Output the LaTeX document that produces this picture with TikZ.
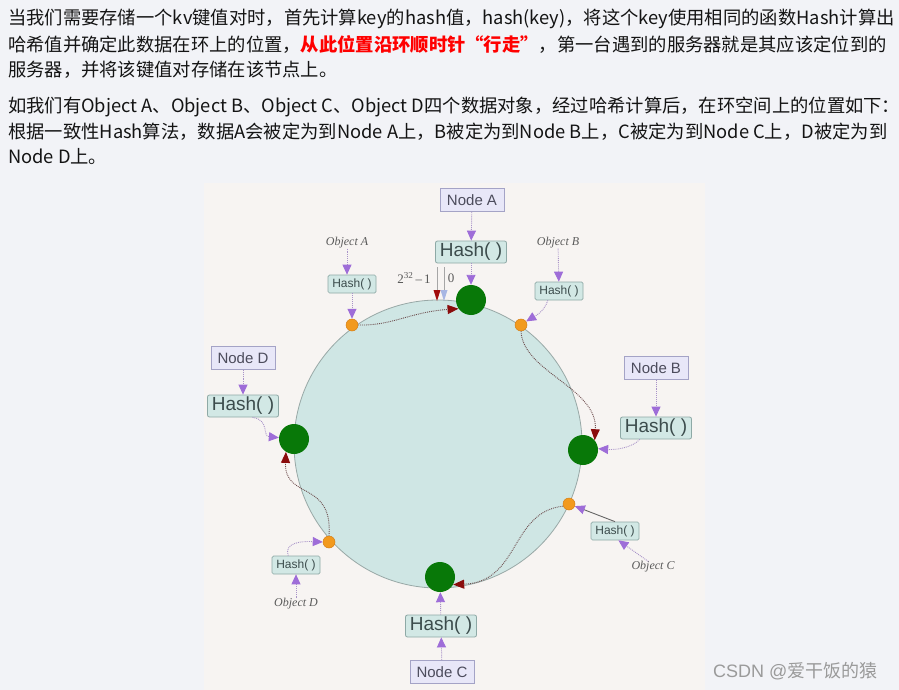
\documentclass[tikz,border=0pt]{standalone}
\usepackage{fontspec}
\setmainfont{Liberation Serif}
\newfontfamily\cjk{Noto Sans CJK SC}
\newfontfamily\hashfont{Liberation Sans}
\usetikzlibrary{arrows.meta}
\definecolor{pagebg}{HTML}{F2F3F7}
\definecolor{diagbg}{HTML}{F7F4F2}
\definecolor{txtcol}{HTML}{141414}
\definecolor{ringfill}{HTML}{CFE6E4}
\definecolor{ringdraw}{HTML}{98A8A6}
\definecolor{hashfill}{HTML}{D2E8E5}
\definecolor{hashdraw}{HTML}{8EA9A6}
\definecolor{hashtext}{HTML}{3C4C4C}
\definecolor{nodefill}{HTML}{E8E7F8}
\definecolor{nodedraw}{HTML}{A4A3C6}
\definecolor{nodetext}{HTML}{4C4C5C}
\definecolor{gfill}{HTML}{087808}
\definecolor{ofill}{HTML}{F29A1E}
\definecolor{odraw}{HTML}{D57F16}
\definecolor{purp}{HTML}{9E6DD8}
\definecolor{purpline}{HTML}{A893C8}
\definecolor{darkred}{HTML}{8A0C0C}
\definecolor{redline}{HTML}{6E4E4E}
\definecolor{objtext}{HTML}{5A5A5A}
\definecolor{wm}{HTML}{9A9A9A}
\begin{document}
\begin{tikzpicture}[x=1pt,y=-1pt,
  txt/.style={anchor=base west,inner sep=0pt,text=txtcol,font=\cjk\fontsize{18.3}{22}\selectfont},
  bighash/.style={draw=hashdraw,fill=hashfill,rounded corners=2pt,line width=0.8pt,minimum width=71pt,minimum height=22pt,inner sep=0pt,text=hashtext,font=\hashfont\fontsize{19}{21}\selectfont},
  smallhash/.style={draw=hashdraw,fill=hashfill,rounded corners=1.5pt,line width=0.7pt,minimum width=48pt,minimum height=18pt,inner sep=0pt,text=hashtext,font=\hashfont\fontsize{12}{14}\selectfont},
  nodebox/.style={draw=nodedraw,fill=nodefill,line width=0.8pt,minimum width=64pt,minimum height=23pt,inner sep=0pt,text=nodetext,font=\hashfont\fontsize{15}{17}\selectfont},
  objlabel/.style={inner sep=0pt,text=objtext,font=\fontsize{12}{14}\selectfont\itshape},
  gnode/.style={circle,fill=gfill,minimum size=30pt,inner sep=0pt},
  onode/.style={circle,fill=ofill,draw=odraw,line width=0.5pt,minimum size=12pt,inner sep=0pt},
  parrow/.style={draw=purpline,densely dotted,line width=0.9pt,-{Triangle[length=10pt,width=9pt,fill=purp,color=purp]}},
  psolid/.style={draw=gray!80!black,line width=0.9pt,-{Triangle[length=10pt,width=9pt,fill=purp,color=purp]}},
  rarrow/.style={draw=redline,densely dotted,line width=0.9pt,-{Triangle[length=11pt,width=9pt,fill=darkred,color=darkred]}},
  tickline/.style={draw=gray!70,line width=0.6pt}
]
\fill[pagebg] (0,0) rectangle (899,690);
\useasboundingbox (0,0) rectangle (899,690);
% text
\node[txt] (l1) at (8,25) {当我们需要存储一个kv键值对时，首先计算key的hash值，hash(key)，将这个key使用相同的函数Hash计算出};
\node[txt] (l2) at (8,52) {哈希值并确定此数据在环上的位置，{\color{red}\bfseries 从此位置沿环顺时针“行走”}，第一台遇到的服务器就是其应该定位到的};
\node[txt] (l3) at (8,77) {服务器，并将该键值对存储在该节点上。};
\node[txt] (l4) at (8,113) {如我们有Object A、Object B、Object C、Object D四个数据对象，经过哈希计算后，在环空间上的位置如下：};
\node[txt] (l5) at (8,139) {根据一致性Hash算法，数据A会被定为到Node A上，B被定为到Node B上，C被定为到Node C上，D被定为到};
\node[txt] (l6) at (8,164) {Node D上。};
% diagram background
\fill[diagbg] (204,183) rectangle (705,690);
% ring
\node[circle,minimum size=288pt,fill=ringfill,draw=ringdraw,line width=0.8pt,inner sep=0pt] (ring) at (438,444) {};
% marks 2^32-1 and 0
\node[inner sep=0pt,text=objtext,font=\fontsize{13}{15}\selectfont] (tmax) at (414,278) {2\textsuperscript{32}\,–\,1};
\node[inner sep=0pt,text=objtext,font=\fontsize{13}{15}\selectfont] (tzero) at (451,278) {0};
\coordinate (mr1) at (437,267);
\coordinate (mr2) at (437,290);
\coordinate (mb1) at (444,267);
\coordinate (mb2) at (444,290);
\draw[tickline] (mr1) -- (mr2);
\draw[tickline] (mb1) -- (mb2);
\fill[darkred!80!red] (433.5,290) -- (440.5,290) -- (437,301) -- cycle;
\fill[cyan!40!blue!35] (440.5,290) -- (447.5,290) -- (444,301) -- cycle;
% server nodes on ring
\node[gnode] (gA) at (471,300) {};
\node[gnode] (gB) at (583,450) {};
\node[gnode] (gC) at (440,577) {};
\node[gnode] (gD) at (294,439) {};
% object points
\node[onode] (oA) at (352,325) {};
\node[onode] (oB) at (521,325) {};
\node[onode] (oC) at (569,504) {};
\node[onode] (oD) at (329,542) {};
% node boxes
\node[nodebox] (nA) at (472,200) {Node A};
\node[nodebox] (nB) at (656,368) {Node B};
\node[nodebox] (nC) at (442,672) {Node C};
\node[nodebox] (nD) at (243,358) {Node D};
% big hash boxes
\node[bighash] (hA) at (471,252) {Hash( )};
\node[bighash] (hB) at (656,428) {Hash( )};
\node[bighash] (hC) at (441,626) {Hash( )};
\node[bighash] (hD) at (243,406) {Hash( )};
% small hash boxes
\node[smallhash] (sA) at (352,284) {Hash( )};
\node[smallhash] (sB) at (559,291) {Hash( )};
\node[smallhash] (sC) at (615,531) {Hash( )};
\node[smallhash] (sD) at (296,565) {Hash( )};
% object labels
\node[objlabel] (objA) at (347,243) {Object A};
\node[objlabel] (objB) at (558,243) {Object B};
\node[objlabel] (objC) at (653,567) {Object C};
\node[objlabel] (objD) at (296,604) {Object D};
% node -> hash -> server
\draw[parrow] (nA) -- (hA);
\draw[parrow] (hA) -- (gA);
\draw[parrow] (nB) -- (hB);
\draw[parrow] (hB.-145) .. controls (632,448) and (615,450) .. (gB.5);
\draw[parrow] (nC) -- (hC);
\draw[parrow] (hC) -- (gC);
\draw[parrow] (nD) -- (hD);
\draw[parrow] (hD.-50) .. controls (270,420) and (262,436) .. (gD.175);
% object -> hash -> point
\draw[parrow] (objA) -- (sA.north -| objA);
\draw[parrow] (sA) -- (oA);
\draw[parrow] (objB) -- (sB);
\draw[parrow] (sB.-140) .. controls (544,312) and (535,316) .. (oB.35);
\draw[parrow] (objC.130) -- (sC.-70);
\draw[psolid] (sC.north) -- (oC.-20);
\draw[parrow] (objD) -- (sD);
\draw[parrow] (sD.130) .. controls (284,543) and (300,541) .. (oD.180);
% clockwise walk
\draw[rarrow] (oA.east) .. controls (392,326) and (410,312) .. (gA.215);
\draw[rarrow] (oB.south) .. controls (523,372) and (598,388) .. (gB.40);
\draw[rarrow] (oC.200) .. controls (510,512) and (520,582) .. (gC.-30);
\draw[rarrow] (oD.north) .. controls (333,480) and (284,500) .. (gD.-122);
% watermark
\node[anchor=base west,inner sep=0pt,text=wm,font=\cjk\fontsize{18}{20}\selectfont] (wmk) at (713,677) {{\hashfont CSDN @}爱干饭的猿};
\end{tikzpicture}
\end{document}
